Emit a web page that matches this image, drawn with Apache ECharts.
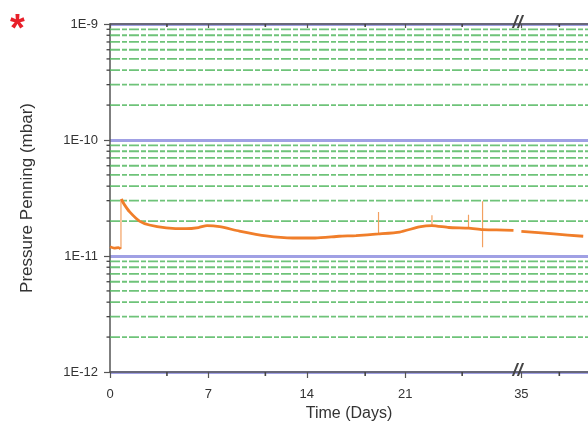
<!DOCTYPE html>
<html>
<head>
<meta charset="utf-8">
<script src="https://cdn.jsdelivr.net/npm/echarts@6/dist/echarts.min.js"></script>
<style>html,body{margin:0;padding:0;background:#fff}#c{width:588px;height:428px}</style>
</head>
<body>
<div id="c"></div>
<script>
// ---- data (actual days, pressure in mbar) ----
const xTickDays = [0, 7, 14, 21, 35];
const xMinorTickDays = [4.05, 11.05, 18.15, 25.05, 37.7];
const yDecades = [1e-12, 1e-11, 1e-10, 1e-9];
const yMinorMult = [2, 3, 4, 5, 6, 7, 8, 9];

const mainDays = [0, 0.3, 0.6, 0.76, null, 0.8, 1.0, 1.4, 2.1, 2.8, 4.0, 5.4, 6.3, 6.9, 7.8, 9.2, 11.1, 13.0, 14.6, 16.3, 17.5, 19.1, 20.6, 22.0, 22.9, 24.1, 25.5, 26.5, 27.5, 28.7, null, 35.0, 37.3, 39.4];
const mainP = [1.2e-11, 1.17e-11, 1.18e-11, 1.15e-11, null, 3.1e-11, 2.8e-11, 2.4e-11, 2.0e-11, 1.85e-11, 1.75e-11, 1.72e-11, 1.76e-11, 1.83e-11, 1.79e-11, 1.64e-11, 1.49e-11, 1.43e-11, 1.43e-11, 1.48e-11, 1.5e-11, 1.55e-11, 1.61e-11, 1.78e-11, 1.83e-11, 1.76e-11, 1.74e-11, 1.69e-11, 1.68e-11, 1.66e-11, null, 1.63e-11, 1.55e-11, 1.48e-11];

// spikes: [day, low, high]
const spikeDays = [0.78, 19.1, 22.9, 25.5, 26.5];
const spikeLow = [1.15e-11, 1.55e-11, 1.83e-11, 1.74e-11, 1.19e-11];
const spikeHigh = [3.1e-11, 2.4e-11, 2.24e-11, 2.27e-11, 2.96e-11];

// ---- axis break (days 28.7 .. 35 compressed) ----
const X_MAX_T = 34;
const BREAK_AT = 29.5;
const BREAK_SHIFT = 5.74;
const BREAK_MARK_T = 28.98;
function toAxis(d) { return d == null ? null : (d > BREAK_AT ? d - BREAK_SHIFT : d); }
function fromAxis(t) { return t > BREAK_AT - BREAK_SHIFT ? t + BREAK_SHIFT : t; }

const mainData = mainDays.map((d, i) => d == null ? [null, null] : [toAxis(d), mainP[i]]);
const spikeData = [];
spikeDays.forEach((d, i) => {
  spikeData.push([toAxis(d), spikeLow[i]], [toAxis(d), spikeHigh[i]], [null, null]);
});

const minorValues = [];
for (let k = 0; k < yDecades.length - 1; k++) {
  yMinorMult.forEach(m => minorValues.push(+(m * yDecades[k]).toPrecision(3)));
}

const majorT = xTickDays.map(toAxis);
const minorT = xMinorTickDays.map(toAxis);
const axisColor = '#555';
const font = 'Arial, "Liberation Sans", sans-serif';
const Y_MIN = yDecades[0], Y_MAX = yDecades[yDecades.length - 1];

// horizontal grid lines at 2..9 x 10^n spanning the x range
const gridData = [];
minorValues.forEach(v => { gridData.push([0, v], [X_MAX_T, v], [null, null]); });

// minor tick marks (drawn as tiny symbols at axis positions)
const xMinorBottom = minorT.map(t => [t, Y_MIN * 1.0001]);
const xMinorTop = minorT.map(t => [t, Y_MAX * 0.9999]);
const yMinorLeft = minorValues.map(v => [0, v]);

const tickSym = { type: 'scatter', xAxisIndex: 0, yAxisIndex: 0, clip: false, silent: true, z: 6,
  itemStyle: { color: '#444', opacity: 1 } };

const chart = echarts.init(document.getElementById('c'));
const option = {
  animation: false,
  backgroundColor: '#fff',
  grid: { left: 110, top: 24, width: 481, height: 348, containLabel: false },
  xAxis: [
    {
      type: 'value', min: 0, max: X_MAX_T, position: 'bottom',
      name: 'Time (Days)', nameLocation: 'middle', nameGap: 31,
      nameTextStyle: { fontFamily: font, fontSize: 16, color: '#333' },
      axisLine: { onZero: false, lineStyle: { color: axisColor, width: 1.5 } },
      axisTick: { customValues: majorT, length: 6, lineStyle: { color: axisColor, width: 1.2 } },
      axisLabel: { customValues: majorT, margin: 16, fontFamily: font, fontSize: 13, color: '#333',
        formatter: v => String(Math.round(fromAxis(v))) },
      splitLine: { show: false }
    },
    {
      type: 'value', min: 0, max: X_MAX_T, position: 'top',
      axisLine: { onZero: false, lineStyle: { color: axisColor, width: 1.5 } },
      axisTick: { customValues: majorT, inside: true, length: 4, lineStyle: { color: axisColor, width: 1.2 } },
      axisLabel: { show: false },
      splitLine: { show: false }
    }
  ],
  yAxis: [
    {
      type: 'log', logBase: 10, min: Y_MIN, max: Y_MAX, position: 'left',
      name: 'Pressure Penning (mbar)', nameLocation: 'middle', nameGap: 74,
      nameTextStyle: { fontFamily: font, fontSize: 17, color: '#333' },
      axisLine: { show: true, onZero: false, lineStyle: { color: axisColor, width: 1.5 } },
      axisTick: { show: true, length: 6, lineStyle: { color: axisColor, width: 1.2 } },
      axisLabel: { margin: 12, fontFamily: font, fontSize: 13, color: '#333',
        formatter: v => '1E' + Math.round(Math.log10(v)) },
      splitLine: { show: true, lineStyle: { color: '#a0a0e4', width: 3, type: 'solid' } }
    }
  ],
  series: [
    {
      type: 'line', xAxisIndex: 0, yAxisIndex: 0, data: gridData, z: 1, silent: true,
      showSymbol: false, symbol: 'none', connectNulls: false,
      lineStyle: { color: '#55b862', width: 1.8, type: [10, 2, 5, 2], opacity: 0.85 }
    },
    {
      type: 'line', xAxisIndex: 0, yAxisIndex: 0, data: spikeData, z: 3,
      showSymbol: false, symbol: 'none', connectNulls: false,
      lineStyle: { color: '#f3a060', width: 1.2 }
    },
    {
      type: 'line', xAxisIndex: 0, yAxisIndex: 0, data: mainData, z: 4,
      showSymbol: false, symbol: 'none', connectNulls: false, smooth: 0.2,
      lineStyle: { color: '#f07e2a', width: 2.8 }
    },
    Object.assign({}, tickSym, { data: xMinorBottom, symbol: 'rect', symbolSize: [1.6, 4], symbolOffset: [0, 2] }),
    Object.assign({}, tickSym, { data: xMinorTop, symbol: 'rect', symbolSize: [1.6, 3], symbolOffset: [0, 1.5] }),
    Object.assign({}, tickSym, { data: yMinorLeft, symbol: 'rect', symbolSize: [3.5, 1.3], symbolOffset: [-1.75, 0] })
  ]
};
chart.setOption(option);

const pb = chart.convertToPixel({ xAxisIndex: 0, yAxisIndex: 0 }, [BREAK_MARK_T, Y_MIN]);
const pt = chart.convertToPixel({ xAxisIndex: 0, yAxisIndex: 0 }, [BREAK_MARK_T, Y_MAX]);
const markStyle = { text: '//', fontSize: 18, fontWeight: 'bold', fontStyle: 'italic', fontFamily: font, fill: '#444', align: 'center', verticalAlign: 'middle' };
chart.setOption({
  graphic: [
    { type: 'text', left: 10, top: 12, z: 100, style: { text: '*', fontSize: 38, fontWeight: 'bold', fontFamily: font, fill: '#e8202a' } },
    { type: 'text', x: pb[0], y: pb[1] - 1, z: 100, style: markStyle },
    { type: 'text', x: pt[0], y: pt[1] - 1, z: 100, style: markStyle }
  ]
});
</script>
</body>
</html>
